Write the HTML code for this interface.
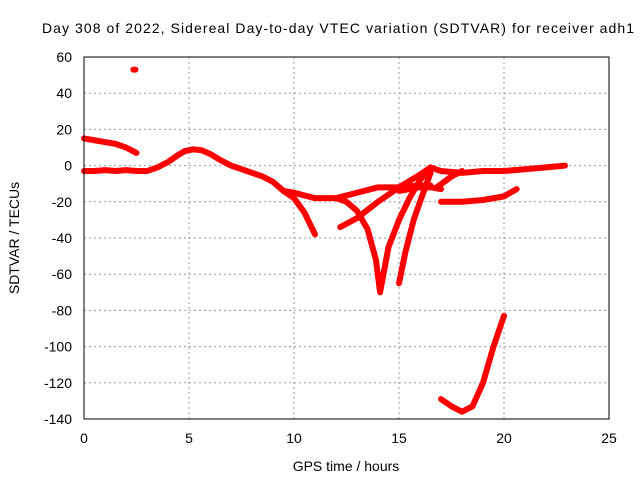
<!DOCTYPE html>
<html><head><meta charset="utf-8"><style>
body{margin:0;background:#fff}
svg{display:block;font-family:"Liberation Sans",sans-serif}
</style></head><body>
<svg id="chart" width="640" height="480">
<text x="42" y="33" font-size="14" textLength="592">Day 308 of 2022, Sidereal Day-to-day VTEC variation (SDTVAR) for receiver adh1</text>
<g id="grid"></g>
<g id="ticks"></g>
<g id="series"></g>
<rect x="84" y="57" width="525" height="362" fill="none" stroke="#000" stroke-width="1"/>
<text x="346" y="471" font-size="14" text-anchor="middle">GPS time / hours</text>
<text transform="translate(19,238) rotate(-90)" font-size="14" text-anchor="middle">SDTVAR / TECUs</text>
</svg>
<script>
const xTicks=[0,5,10,15,20,25];
const yTicks=[60,40,20,0,-20,-40,-60,-80,-100,-120,-140];
const traceA=[[0,15],[0.5,14],[1,13],[1.5,12],[2,10],[2.5,7]];
const traceOutlier=[[2.35,53],[2.45,53]];
const traceMain=[[0,-3],[0.5,-3],[1,-2.5],[1.5,-3],[2,-2.5],[2.5,-3],[3,-3],[3.5,-1],[4,2],[4.5,6],[4.8,8],[5.2,9],[5.6,8.5],[6,6.5],[6.5,3],[7,0],[7.5,-2],[8,-4],[8.5,-6],[9,-9],[9.5,-14],[10,-15],[11,-18],[12,-18],[13,-15],[14,-12],[15,-12],[16,-11],[16.5,-11]];
const traceDrop1=[[9.5,-14],[10,-18],[10.5,-26],[11,-38]];
const traceV=[[12,-18],[12.5,-20],[13,-25],[13.5,-35],[13.9,-52],[14.1,-70],[14.5,-45],[15,-30],[15.5,-18],[16,-8],[16.5,-1]];
const traceRise=[[12.2,-34],[13,-29],[14,-20],[15,-12],[16,-5],[16.5,-1]];
const traceDrop2=[[15,-65],[15.3,-48],[15.7,-30],[16,-20],[16.5,-4]];
const traceFlat=[[15,-14],[16,-12],[16.5,-12],[17,-13]];
const traceTop=[[16.5,-1],[17,-3],[18,-4],[19,-3],[20,-3],[21,-2],[22,-1],[22.9,0]];
const traceMid=[[17,-20],[18,-20],[19,-19],[20,-17],[20.6,-13]];
const traceSmall=[[16.8,-12],[17.5,-6],[18,-3]];
const traceBottom=[[17,-129],[17.5,-133],[18,-136],[18.5,-133],[19,-120],[19.5,-100],[20,-83]];
const allTraces=[traceA,traceOutlier,traceMain,traceDrop1,traceV,traceRise,traceDrop2,traceFlat,traceTop,traceMid,traceSmall,traceBottom];
const NS="http://www.w3.org/2000/svg";
const X=v=>84+v*21, Y=v=>57+(60-v)*1.81;
const grid=document.getElementById('grid'),ticks=document.getElementById('ticks'),ser=document.getElementById('series');
function mk(tag,a,p){const e=document.createElementNS(NS,tag);for(const k in a)e.setAttribute(k,a[k]);p.appendChild(e);return e;}
xTicks.forEach(t=>{
 if(t>0&&t<25){const g=mk('line',{x1:X(t),x2:X(t),y1:57,y2:419,stroke:'#999','stroke-dasharray':'2,3'},grid);
 
 }
 const l=mk('text',{x:X(t),y:443,'font-size':14,'text-anchor':'middle'},ticks);
 
 
 l.textContent=t;
});
yTicks.forEach(t=>{
 if(t<60&&t>-140){const g=mk('line',{x1:84,x2:609,y1:Y(t),y2:Y(t),stroke:'#999','stroke-dasharray':'2,3'},grid);
 
 }
 const l=mk('text',{x:72,y:Y(t)+5,'font-size':14,'text-anchor':'end'},ticks);
 
 
 l.textContent=t;
});
allTraces.forEach(tr=>{
 const p=mk('polyline',{points:tr.map(d=>X(d[0])+','+Y(d[1])).join(' '),fill:'none',stroke:'#f00','stroke-width':6,'stroke-linejoin':'round','stroke-linecap':'round'},ser);
 
 
});
</script>
</body></html>
